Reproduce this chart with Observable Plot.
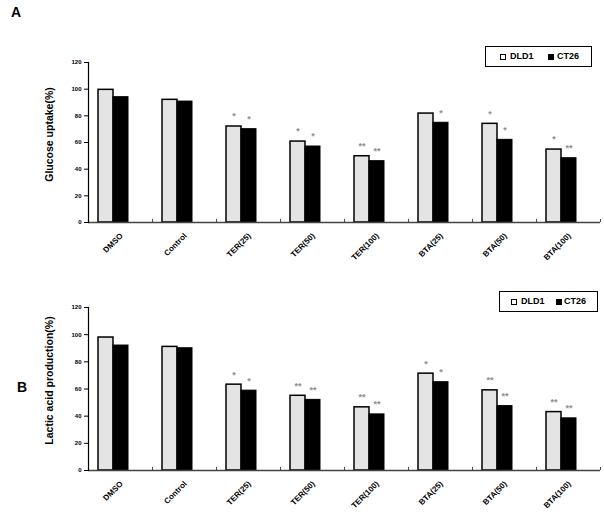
<!DOCTYPE html>
<html>
<head>
<meta charset="utf-8">
<script src="https://cdn.jsdelivr.net/npm/d3@7"></script>
<script src="https://cdn.jsdelivr.net/npm/@observablehq/plot@0.6"></script>
<style>
  html, body { margin: 0; padding: 0; background: #fff; }
  #wrap { position: relative; width: 604px; height: 514px; font-family: "Liberation Sans", Arial, sans-serif; }
  .panel { position: absolute; left: 0; width: 604px; height: 257px; }
  .legend { position: absolute; border: 1.5px solid #000; box-sizing: border-box; background: #fff; }
  .legend .sw { position: absolute; width: 6px; height: 6px; box-sizing: border-box; border: 1px solid #000; }
  .legend .lb { position: absolute; font-size: 9px; font-weight: bold; line-height: 9px; }
  .letter { position: absolute; font-size: 14px; font-weight: bold; line-height: 14px; }
</style>
</head>
<body>
<div id="wrap"></div>
<script>
const categories = ["DMSO", "Control", "TER(25)", "TER(50)", "TER(100)", "BTA(25)", "BTA(50)", "BTA(100)"];
const series = ["DLD1", "CT26"];
const yTicks = [0, 20, 40, 60, 80, 100, 120];

// Panel A: Glucose uptake (%)
const glucoseDLD1 = [99.5, 92, 72, 60.7, 49.7, 81.7, 74, 54.7];
const glucoseCT26 = [94, 90.7, 70, 57, 46, 74.8, 62, 48.2];
const glucoseSigDLD1 = ["", "", "*", "*", "**", "", "*", "*"];
const glucoseSigCT26 = ["", "", "*", "*", "**", "*", "*", "**"];

// Panel B: Lactic acid production (%)
const lacticDLD1 = [97.9, 91, 63.2, 55, 46.5, 71.3, 59, 43];
const lacticCT26 = [92, 90, 58.8, 52, 41.3, 65, 47.4, 38.4];
const lacticSigDLD1 = ["", "", "*", "**", "**", "*", "**", "**"];
const lacticSigCT26 = ["", "", "*", "**", "**", "*", "**", "**"];

const FONT = "Liberation Sans, Arial, sans-serif";

function makePanel({dld1, ct26, sig1, sig2, title, marginTop, marginBottom, titleDy}) {
  const d1 = categories.map((c, i) => ({cat: c, value: dld1[i], sig: sig1[i]}));
  const d2 = categories.map((c, i) => ({cat: c, value: ct26[i], sig: sig2[i]}));
  return Plot.plot({
    width: 604,
    height: 257,
    marginLeft: 88,
    marginRight: 4,
    marginTop,
    marginBottom,
    style: {fontFamily: FONT, background: "transparent", overflow: "visible"},
    x: {domain: categories, padding: 0, axis: null},
    y: {domain: [0, 120], axis: null},
    marks: [
      Plot.barY(d1, {x: "cat", y: "value", fill: "#e4e4e4", stroke: "#000", strokeWidth: 1.5, insetLeft: 10, insetRight: 39}),
      Plot.barY(d2, {x: "cat", y: "value", fill: "#000", stroke: "#000", strokeWidth: 1, insetLeft: 25, insetRight: 24}),
      Plot.text(d1, {x: "cat", y: "value", text: "sig", dx: -14.5, dy: -10, fill: "#909090", fontSize: 9, fontWeight: "bold"}),
      Plot.text(d2, {x: "cat", y: "value", text: "sig", dx: 0.5, dy: -10, fill: "#909090", fontSize: 9, fontWeight: "bold"}),
      Plot.ruleY([0], {stroke: "#444", strokeWidth: 1.5}),
      Plot.ruleX(categories, {x: d => d, y1: 0, y2: 2.2, dx: 32, stroke: "#444", strokeWidth: 1}),
      Plot.frame({anchor: "left", stroke: "#000", strokeWidth: 1.2}),
      Plot.axisY({ticks: yTicks, tickSize: 4, tickPadding: 3, fontSize: 6, fontWeight: "bold", label: null, tickFormat: d => String(d)}),
      Plot.text(categories, {x: d => d, frameAnchor: "bottom", text: d => d, rotate: -45, textAnchor: "end", lineAnchor: "middle", dx: 1, dy: 12, fontSize: 8, fontWeight: "bold", fill: "#000"}),
      Plot.text([title], {frameAnchor: "left", text: d => d, rotate: -90, textAnchor: "middle", lineAnchor: "middle", dx: -39, dy: titleDy, fontSize: 10.5, fontWeight: "bold", fill: "#000"})
    ]
  });
}

const wrap = document.getElementById("wrap");

function addPanel(top, opts) {
  const div = document.createElement("div");
  div.className = "panel";
  div.style.top = top + "px";
  div.appendChild(makePanel(opts));
  wrap.appendChild(div);
}

addPanel(0, {dld1: glucoseDLD1, ct26: glucoseCT26, sig1: glucoseSigDLD1, sig2: glucoseSigCT26,
  title: "Glucose uptake(%)", marginTop: 62, marginBottom: 35, titleDy: -8});
addPanel(257, {dld1: lacticDLD1, ct26: lacticCT26, sig1: lacticSigDLD1, sig2: lacticSigCT26,
  title: "Lactic acid production(%)", marginTop: 50, marginBottom: 44, titleDy: -8.5});

function addLegend(left, top, w, h, sq1, t1, sq2, t2) {
  const lg = document.createElement("div");
  lg.className = "legend";
  Object.assign(lg.style, {left: left + "px", top: top + "px", width: w + "px", height: h + "px"});
  const items = [[sq1, t1, "#fff", series[0]], [sq2, t2, "#000", series[1]]];
  for (const [sx, tx, col, name] of items) {
    const sw = document.createElement("div");
    sw.className = "sw";
    Object.assign(sw.style, {left: (sx - left) + "px", top: (h / 2 - 4) + "px", background: col});
    const lb = document.createElement("div");
    lb.className = "lb";
    lb.textContent = name;
    Object.assign(lb.style, {left: (tx - left) + "px", top: (h / 2 - 6) + "px"});
    lg.appendChild(sw);
    lg.appendChild(lb);
  }
  wrap.appendChild(lg);
}
addLegend(485, 46, 107, 21, 499, 509, 547, 556);
addLegend(499, 291, 99, 21, 510, 520, 555, 563);

function addLetter(txt, left, top) {
  const el = document.createElement("div");
  el.className = "letter";
  el.textContent = txt;
  Object.assign(el.style, {left: left + "px", top: top + "px"});
  wrap.appendChild(el);
}
addLetter("A", 11, 5);
addLetter("B", 17, 380);
</script>
</body>
</html>
